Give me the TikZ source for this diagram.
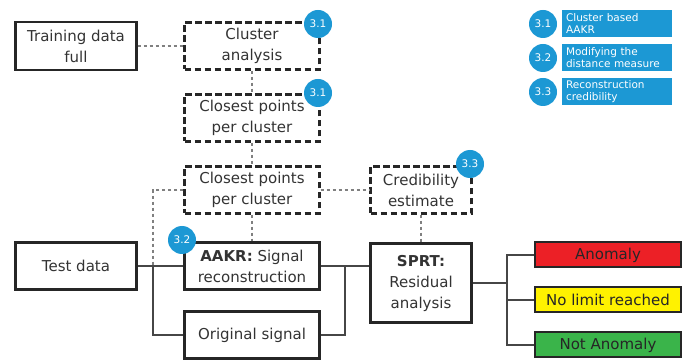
\documentclass[tikz,border=0pt]{standalone}
\usepackage{fontspec}
\setmainfont{DejaVu Sans}
\usetikzlibrary{positioning}
\definecolor{badgeblue}{RGB}{28,152,212}
\definecolor{boxred}{RGB}{236,32,38}
\definecolor{boxyellow}{RGB}{255,242,0}
\definecolor{boxgreen}{RGB}{58,180,74}
\definecolor{linegray}{RGB}{70,70,70}
\tikzset{
	box/.style={draw=black!85, text=black!80, line width=2.4pt, inner sep=0pt, align=center, font=\fontsize{15}{21}\selectfont},
	dbox/.style={box, dash pattern=on 6.5pt off 3.5pt, line width=2.4pt},
	outbox/.style={draw=black!85, text=black!85, line width=2pt, inner sep=0pt, minimum width=146pt, minimum height=25pt, font=\fontsize{15}{18}\selectfont},
	badge/.style={circle, fill=badgeblue, text=white, inner sep=0pt, minimum size=28pt, font=\fontsize{10.5}{11}\selectfont},
	legbox/.style={fill=badgeblue, text=white, inner sep=0pt, minimum width=110pt, minimum height=27pt, text width=102pt, align=left, font=\fontsize{10.5}{12}\selectfont},
	conn/.style={draw=linegray, line width=1.2pt},
	dconn/.style={conn, dash pattern=on 3.5pt off 2.5pt, draw=gray},
}
\begin{document}
\begin{tikzpicture}[x=1pt,y=-1pt]
	\useasboundingbox (0,0) rectangle (691,363);

	%upper branch: training data and clustering
	\node[box, minimum width=121pt, minimum height=48pt] (train) at (76,46) {Training data\\full};
	\node[dbox, minimum width=135pt, minimum height=47pt] (clust) at (252,46) {Cluster\\analysis};
	\node[dbox, minimum width=135pt, minimum height=47pt] (close1) at (252,118) {Closest points\\per cluster};
	\node[dbox, minimum width=135pt, minimum height=47pt] (close2) at (252,190) {Closest points\\per cluster};
	\node[dbox, minimum width=101pt, minimum height=47pt] (cred) at (421,190) {Credibility\\estimate};

	%lower branch: test data and reconstruction
	\node[box, minimum width=121pt, minimum height=47pt] (test) at (76,266) {Test data};
	\node[box, minimum width=135pt, minimum height=47pt] (aakr) at (252,266) {\textbf{AAKR:} Signal\\reconstruction};
	\node[box, minimum width=135pt, minimum height=47pt] (orig) at (252,335) {Original signal};
	\node[box, minimum width=101pt, minimum height=79pt] (sprt) at (421,283) {\textbf{SPRT:}\\Residual\\analysis};

	%outcomes
	\node[outbox, fill=boxred] (anom) at (608,255) {Anomaly};
	\node[outbox, fill=boxyellow] (nolim) at (608,300) {No limit reached};
	\node[outbox, fill=boxgreen] (notanom) at (608,345) {Not Anomaly};

	%helper points
	\coordinate (tsplit) at (153,266);
	\coordinate (rsplit) at (345,266);
	\coordinate (osplit) at (507,283);

	%dashed links
	\draw[dconn] (train) -- (clust);
	\draw[dconn] (clust) -- (close1);
	\draw[dconn] (close1) -- (close2);
	\draw[dconn] (close2) -- (aakr);
	\draw[dconn] (close2) -- (cred);
	\draw[dconn] (cred) -- (sprt);
	\draw[dconn] (close2.west) -| (tsplit);

	%solid links
	\draw[conn] (test) -- (aakr);
	\draw[conn] (tsplit) |- (orig.west);
	\draw[conn] (aakr.east) -- (rsplit) -- (sprt.west |- rsplit);
	\draw[conn] (rsplit) |- (orig.east);
	\draw[conn] (sprt.east |- osplit) -- (osplit);
	\draw[conn] (osplit) |- (anom.west);
	\draw[conn] (osplit) |- (nolim.west);
	\draw[conn] (osplit) |- (notanom.west);

	%badges
	\node[badge] (b1) at (318,24) {3.1};
	\node[badge] (b2) at (318,93) {3.1};
	\node[badge] (b3) at (182,240) {3.2};
	\node[badge] (b4) at (470,164) {3.3};

	%legend
	\node[legbox] (l1) at (617,24) {Cluster based\\AAKR};
	\node[legbox] (l2) at (617,58) {Modifying the\\distance measure};
	\node[legbox] (l3) at (617,92) {Reconstruction\\credibility};
	\node[badge] (lb1) at (543,24) {3.1};
	\node[badge] (lb2) at (543,58) {3.2};
	\node[badge] (lb3) at (543,92) {3.3};
\end{tikzpicture}
\end{document}
